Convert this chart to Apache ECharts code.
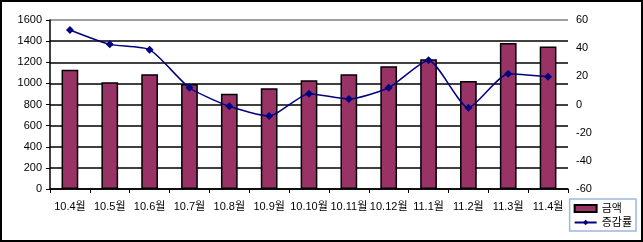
<!DOCTYPE html>
<html><head><meta charset="utf-8">
<script src="https://cdn.jsdelivr.net/npm/echarts@6/dist/echarts.min.js"></script>
<style>html,body{margin:0;padding:0;background:#fff}#c{width:643px;height:242px;box-sizing:border-box;border:2px solid #000}</style>
</head><body><div id="c"></div>
<script>
const categories = ['10.4월','10.5월','10.6월','10.7월','10.8월','10.9월','10.10월','10.11월','10.12월','11.1월','11.2월','11.3월','11.4월'];
const amount = [1130,1010,1086,995,902,953,1029,1086,1162,1228,1023,1383,1348];
const rate = [52.9,42.7,38.9,11.9,-1.3,-8.2,7.7,3.9,11.9,31.4,-2.3,21.9,19.7];
const leftTicks = {min:0,max:1600,interval:200};
const rightTicks = {min:-60,max:60,interval:20};
const font = "'Liberation Sans','Noto Sans CJK KR',sans-serif";
const chart = echarts.init(document.getElementById('c'));
chart.setOption({
  animation:false,
  textStyle:{fontFamily:font},
  grid:{left:48,right:73,top:18,bottom:51},
  legend:{
    orient:'vertical', right:5, bottom:9, itemGap:3,
    backgroundColor:'#fff', borderColor:'#9ab8e0', borderWidth:1.5, padding:[4,4,3,4],
    itemWidth:22, itemHeight:7,
    textStyle:{fontSize:11,color:'#000',fontFamily:font},
    data:[{name:'금액',icon:'rect'},{name:'증감률'}]
  },
  xAxis:{
    type:'category', data:categories,
    axisLine:{lineStyle:{color:'#000',width:1.5}},
    axisTick:{show:true,length:4,lineStyle:{color:'#000'}},
    axisLabel:{color:'#000',fontSize:11,margin:12,interval:0,fontFamily:font}
  },
  yAxis:[{
    type:'value', ...leftTicks,
    axisLine:{show:true,lineStyle:{color:'#000',width:1.5}},
    axisTick:{show:true,length:4,lineStyle:{color:'#000'}},
    axisLabel:{color:'#000',fontSize:11,margin:8,fontFamily:font,formatter:v=>String(v)},
    splitLine:{lineStyle:{color:['#000','#000','#000','#000','#000','#000','#000','#000','#808080'],width:1.5}}
  },{
    type:'value', ...rightTicks,
    axisLine:{show:false},
    axisTick:{show:false},
    axisLabel:{color:'#000',fontSize:11,margin:8,fontFamily:font,formatter:v=>String(v)},
    splitLine:{show:false}
  }],
  series:[{
    name:'금액', type:'bar', data:amount, barWidth:'42%',
    itemStyle:{color:'#993366',borderColor:'#000',borderWidth:1.5}
  },{
    name:'증감률', type:'line', yAxisIndex:1, data:rate, smooth:0.2,
    symbol:'diamond', symbolSize:8,
    lineStyle:{color:'#000080',width:1.5},
    itemStyle:{color:'#000080'}
  }]
});
</script></body></html>
